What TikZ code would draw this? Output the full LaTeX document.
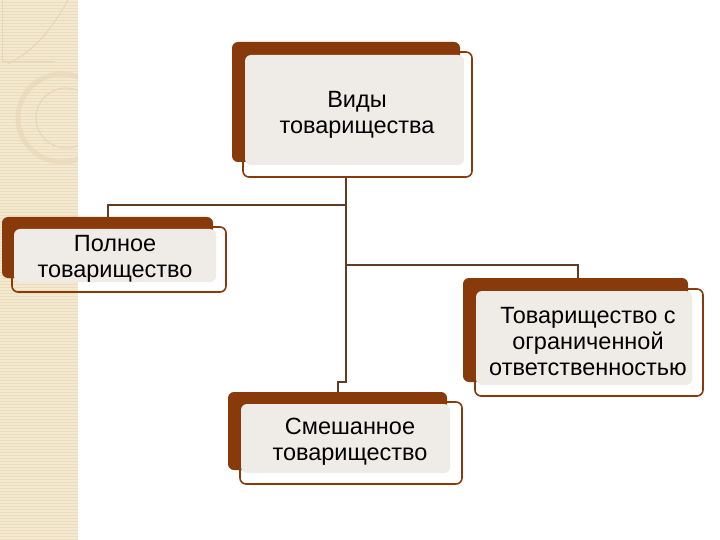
\documentclass[tikz,border=0pt]{standalone}
\usepackage{fontspec}
\setmainfont{Liberation Sans}
\definecolor{brn}{RGB}{136,58,10}
\definecolor{lnc}{RGB}{95,60,35}
\definecolor{gfill}{RGB}{239,235,231}
\definecolor{strip}{RGB}{243,232,208}
\definecolor{stripl}{RGB}{234,220,188}
\definecolor{deco}{RGB}{228,214,182}
\tikzset{
  back/.style={fill=brn, rounded corners=6pt},
  inner/.style={fill=gfill, rounded corners=6pt},
  frame/.style={draw=brn, line width=1.6pt, rounded corners=6pt},
  conn/.style={draw=lnc, line width=1.4pt},
  lbl/.style={align=center, font=\fontsize{23.5}{26}\selectfont, text=black}
}
\begin{document}
\begin{tikzpicture}[x=1pt,y=-1pt]
\useasboundingbox (0,0) rectangle (720,540);
\fill[white] (0,0) rectangle (720,540);
% left decorative strip
\fill[strip] (0,0) rectangle (78,540);
\foreach \y in {2,5,...,540} \draw[stripl, line width=0.4pt] (0,\y) -- (78,\y);
\begin{scope}
\clip (0,0) rectangle (78,540);
\draw[deco, line width=1pt] (2,0) -- (2,62) -- (55,62);
\draw[deco, line width=1pt] (68,0) .. controls (52,28) and (38,48) .. (8,64);
\draw[deco, line width=5pt, opacity=0.6] (62,118) circle (44);
\draw[deco, line width=1pt] (66,118) circle (30);
\end{scope}
% connector joints
\coordinate (j1) at (346,205);
\coordinate (j2) at (346,265);
\coordinate (j3) at (346,382);
\coordinate (j4) at (338,382);
% top box
\fill[back] (232,42) rectangle (460,162);
\fill[inner] (245,55) rectangle (464,165);
\draw[frame] (243,52) rectangle (472,177);
\node[lbl] (top) at (357,115) {Виды\\товарищества};
% left box
\fill[back] (2,217) rectangle (213,278);
\fill[inner] (14,229) rectangle (216,282);
\draw[frame] (12,227) rectangle (226,292);
\node[lbl] (full) at (115,259) {Полное\\товарищество};
% right box
\fill[back] (463,278) rectangle (688,382);
\fill[inner] (476,291) rectangle (692,385);
\draw[frame] (475,289) rectangle (703,396);
\node[lbl] (llc) at (588,342) {Товарищество с\\ограниченной\\ответственностью};
% bottom box
\fill[back] (228,392) rectangle (447,470);
\fill[inner] (241,404) rectangle (450,473);
\draw[frame] (240,402) rectangle (462,484);
\node[lbl] (mix) at (350,442) {Смешанное\\товарищество};
% lines
\coordinate (tb) at (346,177);
\coordinate (fl) at (108,217);
\coordinate (rl) at (578,278);
\coordinate (bl) at (338,392);
\draw[conn] (tb) -- (j3) -- (j4) -- (bl);
\draw[conn] (j1) -- (108,205) -- (fl);
\draw[conn] (j2) -- (578,265) -- (rl);
\end{tikzpicture}
\end{document}
